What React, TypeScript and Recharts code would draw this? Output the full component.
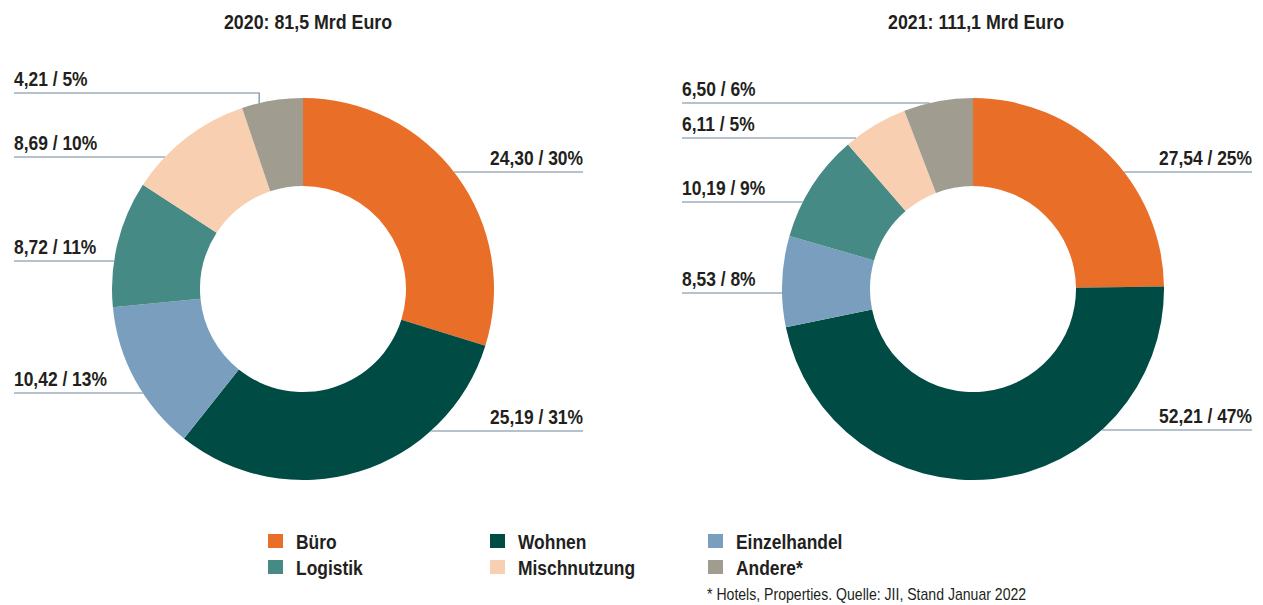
import React from 'react';
import { PieChart, Pie, Cell, Legend } from 'recharts';

const categories = ['Büro', 'Wohnen', 'Einzelhandel', 'Logistik', 'Mischnutzung', 'Andere*'];
const colors = ['#E96E27', '#004B44', '#7A9FBE', '#468A85', '#F8CFB0', '#A09C90'];

const values2020 = [24.3, 25.19, 10.42, 8.72, 8.69, 4.21];
const shares2020 = [30, 31, 13, 11, 10, 5];
const values2021 = [27.54, 52.21, 8.53, 10.19, 6.11, 6.5];
const shares2021 = [25, 47, 8, 9, 5, 6];

const title2020 = '2020: 81,5 Mrd Euro';
const title2021 = '2021: 111,1 Mrd Euro';
const footnote = '* Hotels, Properties. Quelle: JII, Stand Januar 2022';

// label line heights (page px), per slice
const labelY2020 = [172, 431, 393, 261, 157, 93];
const labelY2021 = [172, 430, 293, 202, 138, 103];

const FONT = '"Liberation Sans", Arial, sans-serif';
const NARROW = 0.83;
const TEXT = '#231F20';
const LINE = '#6F87A0';
const RAD = Math.PI / 180;

const W = 1263;
const H = 605;
const R_OUT = 191;
const R_IN = 103;

const fmt = (v: number) => v.toFixed(2).replace('.', ',');

// condensed text: the reference uses a narrow bold face
const NarrowText = ({ x, y, anchor = 'start', size, weight = 700, scale = NARROW, children }: any) => (
  <text
    transform={`translate(${x},${y}) scale(${scale},1)`}
    x={0}
    y={0}
    textAnchor={anchor}
    fontFamily={FONT}
    fontWeight={weight}
    fontSize={size}
    fill={TEXT}
  >
    {children}
  </text>
);

const makeLabel = (shares: number[], ys: number[], leftX: number, rightX: number) => (props: any) => {
  const { cx, cy, midAngle, outerRadius, index, value } = props;
  const right = Math.cos(-midAngle * RAD) > 0;
  const y = ys[index];
  const dy = y - cy;
  let path: string;
  if (Math.abs(dy) < outerRadius - 2) {
    const dx = Math.sqrt(outerRadius * outerRadius - dy * dy);
    const ex = right ? cx + dx : cx - dx;
    path = right ? `M${ex},${y}H${rightX}` : `M${leftX},${y}H${ex}`;
  } else {
    const mx = cx + outerRadius * Math.cos(-midAngle * RAD) - 13;
    const my = cy + outerRadius * Math.sin(-midAngle * RAD) + 3;
    path = right ? `M${mx},${my}V${y}H${rightX}` : `M${leftX},${y}H${mx}V${my}`;
  }
  return (
    <g>
      <path d={path} stroke={LINE} strokeWidth={1.2} fill="none" />
      <NarrowText x={right ? rightX : leftX} y={y - 7} anchor={right ? 'end' : 'start'} size={21}>
        {`${fmt(value)} / ${shares[index]}%`}
      </NarrowText>
    </g>
  );
};

const data2020 = categories.map((name, i) => ({ name, value: values2020[i] }));
const data2021 = categories.map((name, i) => ({ name, value: values2021[i] }));

const LEG_TOP = 525;
const legendCols = [268, 490, 708];

const LegendBox = () => (
  <svg width={W} height={H - LEG_TOP} style={{ display: 'block' }}>
    {categories.map((c, i) => {
      const x = legendCols[i % 3];
      const base = 549 + Math.floor(i / 3) * 26 - LEG_TOP;
      return (
        <g key={c}>
          <rect x={x} y={base - 15} width={15} height={14} fill={colors[i]} />
          <NarrowText x={x + 28} y={base} size={21}>
            {c}
          </NarrowText>
        </g>
      );
    })}
    <NarrowText x={707} y={600 - LEG_TOP} size={16} weight={400} scale={0.88}>
      {footnote}
    </NarrowText>
  </svg>
);

export default function App() {
  return (
    <div style={{ position: 'absolute', left: 0, top: 0, width: W, height: H, background: '#fff' }}>
      <PieChart width={W} height={H} margin={{ top: 0, right: 0, bottom: 0, left: 0 }}>
        <NarrowText x={308} y={29} anchor="middle" size={20} scale={0.89}>
          {title2020}
        </NarrowText>
        <NarrowText x={976} y={29} anchor="middle" size={20} scale={0.89}>
          {title2021}
        </NarrowText>
        <Pie
          data={data2020}
          dataKey="value"
          nameKey="name"
          cx={303}
          cy={289}
          innerRadius={R_IN}
          outerRadius={R_OUT}
          startAngle={90}
          endAngle={-270}
          stroke="none"
          labelLine={false}
          label={makeLabel(shares2020, labelY2020, 14, 583)}
          isAnimationActive={false}
        >
          {data2020.map((d, i) => (
            <Cell key={d.name} fill={colors[i]} />
          ))}
        </Pie>
        <Pie
          data={data2021}
          dataKey="value"
          nameKey="name"
          cx={973}
          cy={289}
          innerRadius={R_IN}
          outerRadius={R_OUT}
          startAngle={90}
          endAngle={-270}
          stroke="none"
          labelLine={false}
          label={makeLabel(shares2021, labelY2021, 682, 1252)}
          isAnimationActive={false}
        >
          {data2021.map((d, i) => (
            <Cell key={d.name} fill={colors[i]} />
          ))}
        </Pie>
        <Legend
          content={() => <LegendBox />}
          wrapperStyle={{ position: 'absolute', left: 0, top: LEG_TOP, width: W, height: H - LEG_TOP }}
        />
      </PieChart>
    </div>
  );
}
